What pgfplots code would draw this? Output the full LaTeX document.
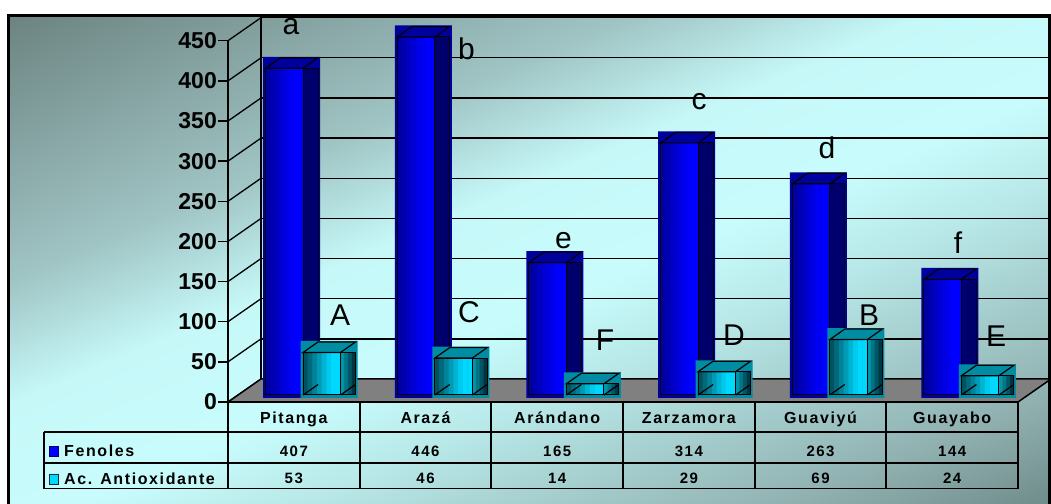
\documentclass[border=0pt]{standalone}
\usepackage{fontspec}
\setmainfont{Liberation Sans}
\newfontfamily\tabfont{Liberation Sans}[LetterSpace=10]
\usepackage{pgfplots}
\usepackage{pgfplotstable}
\pgfplotsset{compat=1.18}

% background and bar colours
\definecolor{bgA}{HTML}{5F7774}
\definecolor{bgB}{HTML}{6B8380}
\definecolor{bgC}{HTML}{A0C4C4}
\definecolor{bgD}{HTML}{C6F8F8}
\definecolor{bgE}{HTML}{C8FCFC}
\definecolor{bgF}{HTML}{B8E8E8}
\definecolor{bgG}{HTML}{90B0B0}
\definecolor{bgH}{HTML}{6E8C8A}
\definecolor{floorgray}{HTML}{808080}
\definecolor{fenTop}{HTML}{00009C}
\definecolor{fenSide}{HTML}{00006C}
\definecolor{fenL}{HTML}{0000A0}
\definecolor{fenR}{HTML}{0000FF}
\definecolor{antTop}{HTML}{008CA2}
\definecolor{antSideL}{HTML}{0094A8}
\definecolor{antSideR}{HTML}{003642}
\definecolor{antL}{HTML}{00525F}
\definecolor{antR}{HTML}{00D8FF}

% colour steps across the front faces (left dark, right bright)
\colorlet{fenS0}{fenR!0!fenL}   \colorlet{fenS1}{fenR!18!fenL}
\colorlet{fenS2}{fenR!36!fenL}  \colorlet{fenS3}{fenR!55!fenL}
\colorlet{fenS4}{fenR!73!fenL}  \colorlet{fenS5}{fenR!90!fenL}
\colorlet{fenS6}{fenR}          \colorlet{fenS7}{fenR}
\colorlet{antS0}{antR!0!antL}   \colorlet{antS1}{antR!18!antL}
\colorlet{antS2}{antR!36!antL}  \colorlet{antS3}{antR!55!antL}
\colorlet{antS4}{antR!73!antL}  \colorlet{antS5}{antR!90!antL}
\colorlet{antS6}{antR}          \colorlet{antS7}{antR}
\colorlet{antD0}{antSideL}      \colorlet{antD1}{antSideR!33!antSideL}
\colorlet{antD2}{antSideR!66!antSideL} \colorlet{antD3}{antSideR}

\pgfdeclarehorizontalshading{bgsh}{1300bp}{color(0bp)=(bgA); color(222bp)=(bgB);
  color(468bp)=(bgC); color(581bp)=(bgD); color(700bp)=(bgE); color(786bp)=(bgF);
  color(979bp)=(bgG); color(1078bp)=(bgH); color(1300bp)=(bgH)}

% total phenols and antioxidant activity per fruit
\pgfplotstableread{
name fen ant
Pitanga 407 53
Arazá 446 46
Arándano 165 14
Zarzamora 314 29
Guaviyú 263 69
Guayabo 144 24
}\fruits

% top faces and lower side edges of the 3-D bars (front face 37.5pt wide)
\pgfdeclareplotmark{fentop}{%
  \pgfpathmoveto{\pgfpoint{-28.25pt}{7pt}}%
  \pgfpathlineto{\pgfpoint{-13.25pt}{17.5pt}}%
  \pgfpathlineto{\pgfpoint{24.25pt}{17.5pt}}%
  \pgfpathlineto{\pgfpoint{9.25pt}{7pt}}%
  \pgfpathclose\pgfusepathqfillstroke}
\pgfdeclareplotmark{fendiag}{%
  \pgfpathmoveto{\pgfpoint{9.25pt}{7pt}}%
  \pgfpathlineto{\pgfpoint{24.25pt}{17.5pt}}\pgfusepathqstroke}
\pgfdeclareplotmark{anttop}{%
  \pgfpathmoveto{\pgfpoint{9.25pt}{7pt}}%
  \pgfpathlineto{\pgfpoint{24.25pt}{17.5pt}}%
  \pgfpathlineto{\pgfpoint{61.75pt}{17.5pt}}%
  \pgfpathlineto{\pgfpoint{46.75pt}{7pt}}%
  \pgfpathclose\pgfusepathqfillstroke}
\pgfdeclareplotmark{antdiag}{%
  \pgfpathmoveto{\pgfpoint{46.75pt}{7pt}}%
  \pgfpathlineto{\pgfpoint{61.75pt}{17.5pt}}\pgfusepathqstroke}

\begin{document}
\begin{tikzpicture}
\useasboundingbox (0,0) rectangle (1051pt,503pt);
\begin{scope}[x=1pt,y=1pt]
  % background
  \begin{scope}
    \clip (9,0) rectangle (1049,488);
    \node[inner sep=0pt, rotate=-67] at (529,244) {\pgfuseshading{bgsh}};
    % back wall grid and left wall edges
    \foreach \v in {0,50,...,450}{
      \draw[line width=1.3pt] (261,{124+\v*0.80289}) -- (1052,{124+\v*0.80289});
      \draw[line width=1.3pt] (228,{101+\v*0.80289}) -- (261,{124+\v*0.80289});
    }
    \draw[line width=1.3pt] (261,124) -- (261,490);
    % floor
    \draw[line width=1.5pt, fill=floorgray] (228,101) -- (1018,101) -- (1051,124) -- (261,124) -- cycle;
  \end{scope}
\end{scope}

\begin{axis}[
  at={(228pt,101pt)}, anchor=south west,
  scale only axis, width=790pt, height=361.3pt,
  xmin=-0.5, xmax=5.5, ymin=0, ymax=450,
  axis x line*=bottom, axis y line*=left,
  axis line style={line width=1.5pt},
  xtick=\empty, ytick={0,50,...,450},
  tick align=outside, major tick length=10pt,
  every tick/.append style={black, line width=1.5pt},
  yticklabel style={font=\fontsize{23}{23}\selectfont\bfseries, inner sep=0pt, xshift=-1pt},
  /pgf/number format/assume math mode=true,
  clip=false,
]
% Fenoles: depth block, side, front face in colour steps, outline, top face
\addplot[ybar, bar width=57pt, bar shift=-2.25pt, yshift=4pt, fill=fenTop, draw=none]
  table[x expr=\coordindex, y expr=\thisrow{fen}+18] {\fruits};
\addplot[ybar, bar width=15pt, bar shift=16.75pt, yshift=7pt, fill=fenSide, draw=black, line width=1pt]
  table[x expr=\coordindex, y=fen] {\fruits};
\pgfplotsinvokeforeach{0,...,7}{
  \addplot[ybar, bar width=4.9pt, bar shift={-25.906pt+#1*4.6875pt}, yshift=7pt, fill=fenS#1, draw=none]
    table[x expr=\coordindex, y=fen] {\fruits};
}
\addplot[ybar, bar width=37.5pt, bar shift=-9.5pt, yshift=7pt, fill=none, draw=black, line width=1pt]
  table[x expr=\coordindex, y=fen] {\fruits};
\addplot[only marks, mark=fentop, mark options={fill=fenTop, draw=black, line width=1.2pt}]
  table[x expr=\coordindex, y=fen] {\fruits};
\addplot[only marks, mark=fendiag, mark options={draw=black, line width=1.2pt}]
  table[x expr=\coordindex, y expr=0] {\fruits};
% Ac. Antioxidante
\addplot[ybar, bar width=57pt, bar shift=35.25pt, yshift=4pt, fill=antTop, draw=none]
  table[x expr=\coordindex, y expr=\thisrow{ant}+18] {\fruits};
\pgfplotsinvokeforeach{0,...,3}{
  \addplot[ybar, bar width=3.9pt, bar shift={48.625pt+#1*3.75pt}, yshift=7pt, fill=antD#1, draw=none]
    table[x expr=\coordindex, y=ant] {\fruits};
}
\addplot[ybar, bar width=15pt, bar shift=54.25pt, yshift=7pt, fill=none, draw=black, line width=1pt]
  table[x expr=\coordindex, y=ant] {\fruits};
\pgfplotsinvokeforeach{0,...,7}{
  \addplot[ybar, bar width=4.9pt, bar shift={11.594pt+#1*4.6875pt}, yshift=7pt, fill=antS#1, draw=none]
    table[x expr=\coordindex, y=ant] {\fruits};
}
\addplot[ybar, bar width=37.5pt, bar shift=28pt, yshift=7pt, fill=none, draw=black, line width=1pt]
  table[x expr=\coordindex, y=ant] {\fruits};
\addplot[only marks, mark=anttop, mark options={fill=antTop, draw=black, line width=1.2pt}]
  table[x expr=\coordindex, y=ant] {\fruits};
\addplot[only marks, mark=antdiag, mark options={draw=black, line width=1.2pt}]
  table[x expr=\coordindex, y expr=0] {\fruits};
\end{axis}

\begin{scope}[x=1pt,y=1pt]
  % letters of significance
  \begin{scope}[every node/.style={font=\fontsize{30}{30}\selectfont, anchor=base, inner sep=0pt}]
    \node at (291,468) {a};   \node at (466.5,443) {b}; \node at (563.5,254) {e};
    \node at (699,393) {c};   \node at (827,344) {d};   \node at (958,249) {f};
    \node at (340,177) {A};   \node at (469,180) {C};   \node at (605,152) {F};
    \node at (734,157) {D};   \node at (869,177) {B};   \node at (996,156) {E};
  \end{scope}
  % data table
  \begin{scope}[line width=1.8pt]
    \draw (44,71) -- (1018,71);
    \draw (44,40) -- (1018,40);
    \draw (44,14.5) -- (1018,14.5);
    \draw (44,71) -- (44,14.5);
    \foreach \k in {0,...,6}{ \draw ({228+131.67*\k},101) -- ({228+131.67*\k},14.5); }
  \end{scope}
  \draw[line width=1.5pt, draw=fenSide, fill=fenR] (49.5,46.5) rectangle (58.5,56.5);
  \draw[line width=1.5pt, draw=antSideR, fill=antR] (49.5,18.5) rectangle (58.5,28.5);
  \node[anchor=base west, inner sep=0pt, font=\tabfont\bfseries\fontsize{16}{16}\selectfont] at (64,46.3) {Fenoles};
  \node[anchor=base west, inner sep=0pt, font=\tabfont\bfseries\fontsize{16}{16}\selectfont] at (64,19) {Ac. Antioxidante};
  \foreach \i in {0,...,5}{
    \pgfplotstablegetelem{\i}{name}\of\fruits \let\nm\pgfplotsretval
    \pgfplotstablegetelem{\i}{fen}\of\fruits \let\fv\pgfplotsretval
    \pgfplotstablegetelem{\i}{ant}\of\fruits \let\av\pgfplotsretval
    \pgfmathsetmacro\cx{293.83+131.67*\i}
    \node[anchor=base, inner sep=0pt, font=\tabfont\bfseries\fontsize{16}{16}\selectfont] at (\cx,79.7) {\nm};
    \node[anchor=base, inner sep=0pt, font=\tabfont\bfseries\fontsize{15}{15}\selectfont] at (\cx,47) {\fv};
    \node[anchor=base, inner sep=0pt, font=\tabfont\bfseries\fontsize{15}{15}\selectfont] at (\cx,19.5) {\av};
  }
  % outer frame
  \draw[line width=3pt] (8.5,-10) rectangle (1049.5,487.5);
\end{scope}
\end{tikzpicture}
\end{document}
